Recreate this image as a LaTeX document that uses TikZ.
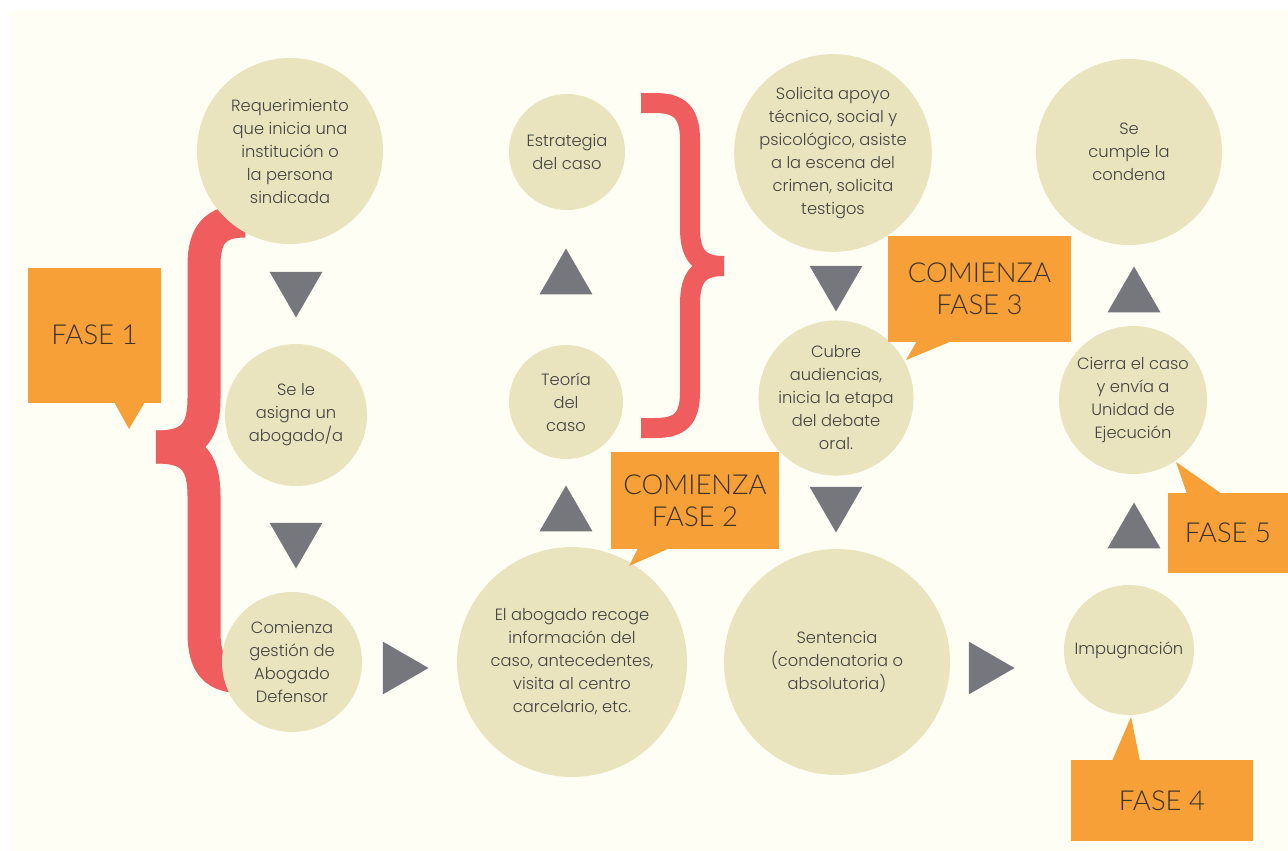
\documentclass[tikz,border=0pt]{standalone}
\usepackage{fontspec}
\setmainfont{Poppins}[UprightFont={* Light}]
\newfontfamily\fasefont{Lato}[UprightFont={* Light}]
\usetikzlibrary{shapes.geometric}

\definecolor{bgcream}{RGB}{254,254,245}
\definecolor{circbeige}{RGB}{233,228,189}
\definecolor{faseorange}{RGB}{247,160,56}
\definecolor{bracered}{RGB}{240,93,94}
\definecolor{arrowgray}{RGB}{118,119,124}
\definecolor{textgray}{RGB}{66,66,66}
\definecolor{fasetext}{RGB}{60,50,38}

\begin{document}
\begin{tikzpicture}[x=1pt,y=-1pt,
	stepcircle/.style={circle,fill=circbeige,inner sep=0pt,text=textgray,align=center,font=\fontsize{16.3}{23}\selectfont},
	tri/.style={regular polygon,regular polygon sides=3,fill=arrowgray,inner sep=0pt,minimum size=61pt},
	uptri/.style={tri},
	downtri/.style={tri,shape border rotate=180},
	righttri/.style={tri,shape border rotate=-90},
	fasebox/.style={rectangle,fill=faseorange,inner sep=0pt,align=center,text=fasetext,font=\fasefont\fontsize{27.5}{32}\selectfont},
	bracebar/.style={draw=bracered,line cap=butt}]
		\useasboundingbox (0,0) rectangle (1288,851);
		\fill[white] (0,0) rectangle (1288,851);
		\fill[bgcream] (10,11) rectangle (1288,851);

		% braces
		\draw[bracebar,line width=33pt] (245,221) .. controls (215,221) and (204,235) .. (204,265) -- (204,398) .. controls (204,435) and (190,447) .. (156,447);
		\draw[bracebar,line width=33pt] (156,447) .. controls (190,447) and (204,459) .. (204,496) -- (204,632) .. controls (204,665) and (215,677) .. (245,677);
		\draw[bracebar,line width=20pt] (641,103) -- (655,103) .. controls (680,103) and (690,113) .. (690,140) -- (690,228) .. controls (690,256) and (700,266) .. (724,266);
		\draw[bracebar,line width=20pt] (724,266) .. controls (700,266) and (690,276) .. (690,304) -- (690,392) .. controls (690,419) and (680,428) .. (655,428) -- (641,428);

		% circles
		\node[stepcircle,minimum size=186pt]	(req)	at (290,151)	{Requerimiento\\que inicia una\\institución o\\la persona\\sindicada};
		\node[stepcircle,minimum size=142pt]	(asig)	at (296,415)	{Se le\\asigna un\\abogado/a};
		\node[stepcircle,minimum size=140pt]	(gest)	at (292,662)	{Comienza\\gestión de\\Abogado\\Defensor};
		\node[stepcircle,minimum size=230pt]	(recoge)	at (572,662)	{El abogado recoge\\información del\\caso, antecedentes,\\visita al centro\\carcelario, etc.};
		\node[stepcircle,minimum size=114pt]	(teoria)	at (566,402)	{Teoría\\del\\caso};
		\node[stepcircle,minimum size=116pt]	(estr)	at (567,152)	{Estrategia\\del caso};
		\node[stepcircle,minimum size=190pt]	(apoyo)	at (833,153)	{Solicita apoyo\\técnico, social y\\psicológico, asiste\\a la escena del\\crimen, solicita\\testigos};
		\node[stepcircle,minimum size=144pt]	(cubre)	at (836,398)	{Cubre\\audiencias,\\inicia la etapa\\del debate\\oral.};
		\node[stepcircle,minimum size=226pt]	(sent)	at (837,662)	{Sentencia\\(condenatoria o\\absolutoria)};
		\node[stepcircle,minimum size=130pt]	(impug)	at (1129,650)	{Impugnación};
		\node[stepcircle,minimum size=148pt]	(cierra)	at (1133,400)	{Cierra el caso\\y envía a\\Unidad de\\Ejecución};
		\node[stepcircle,minimum size=186pt]	(cumple)	at (1129,152)	{Se\\cumple la\\condena};

		% arrows
		\node[downtri]	(t1)	at (296,287)	{};
		\node[downtri]	(t2)	at (296,538)	{};
		\node[righttri]	(t3)	at (398,668)	{};
		\node[uptri]	(t4)	at (566,516)	{};
		\node[uptri]	(t5)	at (566,279)	{};
		\node[downtri]	(t6)	at (836,281)	{};
		\node[downtri]	(t7)	at (836,502)	{};
		\node[righttri]	(t8)	at (984,668)	{};
		\node[uptri]	(t9)	at (1134,533)	{};
		\node[uptri]	(t10)	at (1134,297)	{};

		% phase callouts
		\node[fasebox,minimum width=133pt,minimum height=135pt]	(f1)	at (94.5,335)	{FASE 1};
		\fill[faseorange] (113,400) -- (129,429) -- (146,400) -- cycle;
		\node[fasebox,minimum width=168pt,minimum height=97pt]	(f2)	at (695,500.5)	{COMIENZA\\FASE 2};
		\fill[faseorange] (638,548) -- (629,566) -- (670,548) -- cycle;
		\node[fasebox,minimum width=183pt,minimum height=106pt]	(f3)	at (979.5,289)	{COMIENZA\\FASE 3};
		\fill[faseorange] (917,341) -- (906,360) -- (952,341) -- cycle;
		\node[fasebox,minimum width=120pt,minimum height=80pt]	(f5)	at (1228,533)	{FASE 5};
		\fill[faseorange] (1187,494) -- (1176,462) -- (1222,494) -- cycle;
		\node[fasebox,minimum width=182pt,minimum height=81pt]	(f4)	at (1162,800.5)	{FASE 4};
		\fill[faseorange] (1112,761) -- (1131,717) -- (1140,761) -- cycle;
	\end{tikzpicture}
\end{document}
